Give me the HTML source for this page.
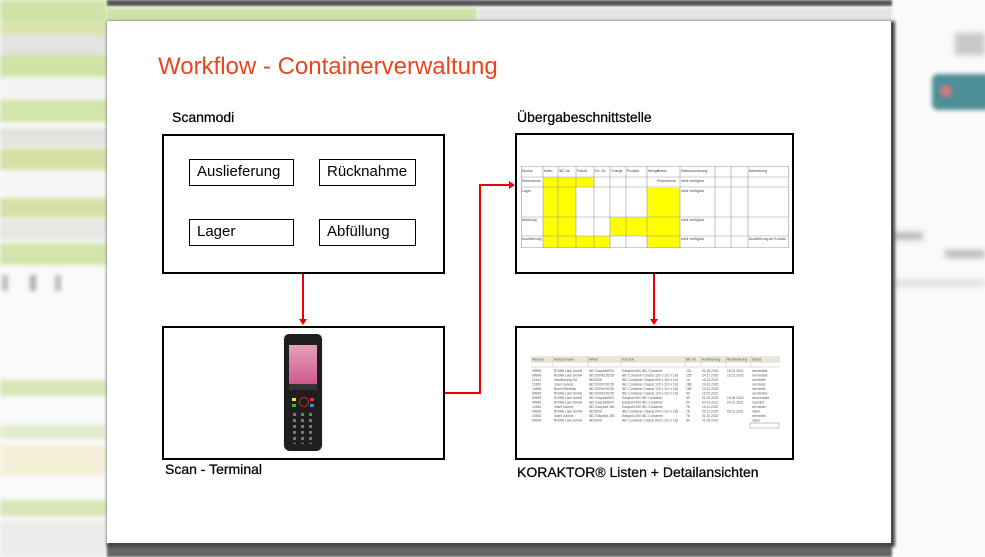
<!DOCTYPE html>
<html><head><meta charset="utf-8"><style>
body{margin:0;width:985px;height:557px;overflow:hidden;position:relative;background:#fafafa;font-family:"Liberation Sans",sans-serif}
.a{position:absolute}
.bl{position:absolute;left:0;width:107px}
.box{position:absolute;border:2px solid #000;background:#fff;box-sizing:border-box}
.ib{position:absolute;border:1px solid #000;box-sizing:border-box;font-size:15px;padding:3px 0 0 7px;color:#000}
.lbl{position:absolute;font-size:14px;color:#000;-webkit-text-stroke:0.25px #000}
.r{position:absolute;background:#e00}
svg text{white-space:pre}
</style></head><body>
<div style="position:absolute;left:0;top:0;width:107px;height:557px;filter:blur(2px)">
<div class="bl" style="top:0;height:20px;background:#cfe3a6"></div>
<div class="bl" style="top:20px;height:15px;background:#dbe4b0"></div>
<div class="bl" style="top:35px;height:20px;background:#e3e3e0"></div>
<div class="bl" style="top:55px;height:22px;background:#cfe3a6"></div>
<div class="bl" style="top:78px;height:22px;background:#f4f4f2"></div>
<div class="bl" style="top:100px;height:22px;background:#d2e5aa"></div>
<div class="bl" style="top:128px;height:18px;background:#e2e2de"></div>
<div class="bl" style="top:148px;height:22px;background:#d6e0a6"></div>
<div class="bl" style="top:175px;height:20px;background:#f5f5f3"></div>
<div class="bl" style="top:198px;height:20px;background:#d8dfa6"></div>
<div class="bl" style="top:220px;height:20px;background:#e6e6e3"></div>
<div class="bl" style="top:243px;height:22px;background:#d2e5aa"></div>
<div class="a" style="left:2px;top:275px;width:6px;height:16px;background:#bbb"></div>
<div class="a" style="left:30px;top:275px;width:6px;height:16px;background:#aaa"></div>
<div class="a" style="left:55px;top:275px;width:6px;height:16px;background:#bbb"></div>
<div class="bl" style="top:380px;height:16px;background:#d6e6b6"></div>
<div class="bl" style="top:425px;height:14px;background:#e3edd0"></div>
<div class="bl" style="top:445px;height:30px;background:#f4f1d8"></div>
<div class="bl" style="top:500px;height:16px;background:#d6e6b6"></div>
<div class="bl" style="top:520px;height:37px;background:#ececea"></div>
</div>
<div class="a" style="left:107px;top:0;width:785px;height:6px;background:#555;filter:blur(1px)"></div>
<div class="a" style="left:107px;top:8px;width:370px;height:12px;background:#cfe3a6;filter:blur(1px)"></div>
<div class="a" style="left:478px;top:8px;width:414px;height:12px;background:#e4e4e4;filter:blur(1px)"></div>
<div class="a" style="left:107px;top:544px;width:785px;height:13px;background:#666;filter:blur(1px)"></div>
<div class="a" style="left:955px;top:33px;width:30px;height:22px;background:#c8c8c8;filter:blur(3px)"></div>
<div class="a" style="left:932px;top:74px;width:60px;height:36px;background:#4d8f98;border-radius:6px;filter:blur(2px)"></div>
<div class="a" style="left:940px;top:85px;width:12px;height:12px;background:#d07c7c;border-radius:50%;filter:blur(2px)"></div>
<div class="a" style="left:893px;top:232px;width:30px;height:8px;background:#bbb;filter:blur(3px)"></div>
<div class="a" style="left:945px;top:250px;width:40px;height:8px;background:#bbb;filter:blur(3px)"></div>
<div class="a" style="left:893px;top:280px;width:92px;height:6px;background:#ddd;filter:blur(3px)"></div>

<div class="a" style="left:107px;top:21px;width:784px;height:522px;background:#fff;box-shadow:2px 2px 3px 2px #444"></div>
<div class="a" style="left:158px;top:53px;font-size:24px;color:#e8461e;white-space:nowrap">Workflow - Containerverwaltung</div>

<div class="lbl" style="left:172px;top:109px">Scanmodi</div>
<div class="lbl" style="left:517px;top:109px">Übergabeschnittstelle</div>
<div class="lbl" style="left:165px;top:461px">Scan - Terminal</div>
<div class="lbl" style="left:517px;top:464px">KORAKTOR® Listen + Detailansichten</div>

<div class="box" style="left:162px;top:134px;width:283px;height:140px"></div>
<div class="ib" style="left:189px;top:159px;width:105px;height:27px">Auslieferung</div>
<div class="ib" style="left:319px;top:159px;width:97px;height:27px">Rücknahme</div>
<div class="ib" style="left:189px;top:219px;width:105px;height:27px">Lager</div>
<div class="ib" style="left:319px;top:219px;width:97px;height:27px">Abfüllung</div>

<div class="box" style="left:162px;top:326px;width:283px;height:134px"></div>
<div class="box" style="left:515px;top:133px;width:279px;height:141px"></div>
<div class="box" style="left:515px;top:326px;width:279px;height:134px"></div>

<div class="r" style="left:302px;top:274px;width:2px;height:46px"></div>
<div class="a" style="left:299px;top:319px;border-left:4px solid transparent;border-right:4px solid transparent;border-top:6px solid #e00"></div>
<div class="r" style="left:653px;top:274px;width:2px;height:46px"></div>
<div class="a" style="left:650px;top:319px;border-left:4px solid transparent;border-right:4px solid transparent;border-top:6px solid #e00"></div>
<div class="r" style="left:445px;top:392px;width:35px;height:2px"></div>
<div class="r" style="left:479px;top:184px;width:2px;height:210px"></div>
<div class="r" style="left:479px;top:184px;width:31px;height:2px"></div>
<div class="a" style="left:509px;top:181px;border-top:4px solid transparent;border-bottom:4px solid transparent;border-left:6px solid #e00"></div>

<svg class="a" style="left:521px;top:166px" width="268" height="82">
<rect x="0" y="0" width="268" height="82" fill="#fff"/>
<rect x="22" y="11" width="33" height="71" fill="#ff0"/>
<rect x="37" y="11" width="36" height="10" fill="#ff0"/>
<rect x="55" y="70" width="34" height="12" fill="#ff0"/>
<rect x="126" y="22" width="33" height="60" fill="#ff0"/>
<rect x="89" y="51" width="70" height="19" fill="#ff0"/>
<g stroke="#999" stroke-width="0.6">
<line x1="0" y1="0.5" x2="268" y2="0.5"/><line x1="0" y1="11" x2="268" y2="11"/><line x1="0" y1="21" x2="268" y2="21"/><line x1="0" y1="51" x2="268" y2="51"/><line x1="0" y1="70" x2="268" y2="70"/><line x1="0" y1="81.5" x2="268" y2="81.5"/>
<line x1="0.5" y1="0" x2="0.5" y2="82"/><line x1="22" y1="0" x2="22" y2="82"/><line x1="37" y1="0" x2="37" y2="82"/><line x1="55" y1="0" x2="55" y2="82"/><line x1="73" y1="0" x2="73" y2="82"/><line x1="89" y1="0" x2="89" y2="82"/><line x1="105" y1="0" x2="105" y2="82"/><line x1="126" y1="0" x2="126" y2="82"/><line x1="159" y1="0" x2="159" y2="82"/><line x1="194" y1="0" x2="194" y2="82"/><line x1="210" y1="0" x2="210" y2="82"/><line x1="227" y1="0" x2="227" y2="82"/><line x1="267.5" y1="0" x2="267.5" y2="82"/>
</g>
<g font-size="3.5" fill="#444" font-family="Liberation Sans">
<text x="1" y="6">Modus</text><text x="23" y="6">Mitar-</text><text x="38" y="6">IBC-Nr.</text><text x="56" y="6">Fracht-</text><text x="74" y="6">Kd.-Nr.</text><text x="90" y="6">Charge</text><text x="106" y="6">Produkt</text><text x="127" y="6">Menge</text><text x="136" y="6">Status</text><text x="160" y="6">Statuszuordnung</text><text x="228" y="6">Bemerkung</text>
<text x="1" y="16">Rücknahme</text><text x="136" y="16">Rücknahme</text><text x="160" y="16">nicht verfügbar</text>
<text x="1" y="26">Lager</text><text x="160" y="26">nicht verfügbar</text>
<text x="1" y="55">Abfüllung</text><text x="160" y="55">nicht verfügbar</text>
<text x="1" y="74">Auslieferung</text><text x="160" y="74">nicht verfügbar</text><text x="228" y="74">Auslieferung an Kunden</text>
</g>
</svg>

<svg class="a" style="left:531px;top:356px" width="249" height="74">
<rect x="0" y="0" width="249" height="74" fill="#fff"/>
<rect x="0" y="0" width="249" height="6" fill="#ece6da"/>
<g stroke="#bbb" stroke-width="0.5">
<line x1="0" y1="6" x2="249" y2="6"/><line x1="0" y1="11" x2="249" y2="11"/>
<line x1="22" y1="0" x2="22" y2="11"/><line x1="57" y1="0" x2="57" y2="11"/><line x1="90" y1="0" x2="90" y2="11"/><line x1="154" y1="0" x2="154" y2="11"/><line x1="170" y1="0" x2="170" y2="11"/><line x1="195" y1="0" x2="195" y2="11"/><line x1="220" y1="0" x2="220" y2="11"/>
</g>
<rect x="219" y="67" width="29" height="5" fill="none" stroke="#888" stroke-width="0.5"/>
<g font-size="3.3" fill="#555" font-family="Liberation Sans">
<text x="1" y="4.5">Adresse</text><text x="23" y="4.5">Adress-Name</text><text x="58" y="4.5">Artikel</text><text x="91" y="4.5">Kurztext</text><text x="155" y="4.5">IBC-Nr</text><text x="171" y="4.5">Auslieferung</text><text x="196" y="4.5">Rücklieferung</text><text x="221" y="4.5">Status</text>
</g>
<g font-size="3.3" fill="#555" font-family="Liberation Sans">
<g transform="translate(0,16)"><text x="1">99999</text><text x="23">ROWA Lack GmbH</text><text x="58">IBC EasyfoldS00</text><text x="91">Easyfold 500 IBC Container</text><text x="155">113</text><text x="171">01.09.2020</text><text x="196">15.01.2021</text><text x="221">vermietbar</text></g>
<g transform="translate(0,20.5)"><text x="1">99999</text><text x="23">ROWA Lack GmbH</text><text x="58">IBC1000K150.55</text><text x="91">IBC Container Classic 120 x 110 x 116</text><text x="155">135</text><text x="171">24.11.2020</text><text x="196">15.12.2020</text><text x="221">vermietbar</text></g>
<g transform="translate(0,25)"><text x="1">11462</text><text x="23">Vandenberg SA</text><text x="58">IBC500K</text><text x="91">IBC Container Classic 600 x 110 x 116</text><text x="155">15</text><text x="171">15.01.2021</text><text x="221">vermietet</text></g>
<g transform="translate(0,29.5)"><text x="1">10360</text><text x="23">Josef Juriens</text><text x="58">IBC1000K150.55</text><text x="91">IBC Container Classic 120 x 110 x 116</text><text x="155">188</text><text x="171">20.10.2020</text><text x="221">vermietet</text></g>
<g transform="translate(0,34)"><text x="1">10658</text><text x="23">Bach/Oberfbau</text><text x="58">IBC1000K150.55</text><text x="91">IBC Container Classic 120 x 110 x 116</text><text x="155">189</text><text x="171">20.10.2020</text><text x="221">vermietet</text></g>
<g transform="translate(0,38.5)"><text x="1">99999</text><text x="23">ROWA Lack GmbH</text><text x="58">IBC1000K150.55</text><text x="91">IBC Container Classic 120 x 110 x 116</text><text x="155">40</text><text x="171">10.01.2021</text><text x="221">vermietbar</text></g>
<g transform="translate(0,43)"><text x="1">99999</text><text x="23">ROWA Lack GmbH</text><text x="58">IBC EasyfoldS00</text><text x="91">Easyfold 500 IBC Container</text><text x="155">59</text><text x="171">01.02.2020</text><text x="196">15.06.2020</text><text x="221">verschrottet</text></g>
<g transform="translate(0,47.5)"><text x="1">99999</text><text x="23">ROWA Lack GmbH</text><text x="58">IBC EasyfoldS00</text><text x="91">Easyfold 500 IBC Container</text><text x="155">64</text><text x="171">04.01.2021</text><text x="196">20.01.2021</text><text x="221">repariert</text></g>
<g transform="translate(0,52)"><text x="1">10360</text><text x="23">Josef Juriens</text><text x="58">IBC Easyfold 250</text><text x="91">Easyfold 250 IBC Container</text><text x="155">78</text><text x="171">15.11.2020</text><text x="221">vermietet</text></g>
<g transform="translate(0,56.5)"><text x="1">99999</text><text x="23">ROWA Lack GmbH</text><text x="58">IBC500K</text><text x="91">IBC Container Classic 600 x 110 x 116</text><text x="155">78</text><text x="171">09.11.2020</text><text x="196">05.01.2021</text><text x="221">intern</text></g>
<g transform="translate(0,61)"><text x="1">10360</text><text x="23">Josef Juriens</text><text x="58">IBC Easyfold 250</text><text x="91">Easyfold 250 IBC Container</text><text x="155">78</text><text x="171">01.10.2020</text><text x="221">vermietet</text></g>
<g transform="translate(0,65.5)"><text x="1">99999</text><text x="23">ROWA Lack GmbH</text><text x="58">IBC500K</text><text x="91">IBC Container Classic 600 x 110 x 116</text><text x="155">80</text><text x="171">01.09.2020</text><text x="221">intern</text></g>
</g>
</svg>

<div class="a" style="left:283px;top:334px;width:40px;height:117px;background:#f0f0f0"></div>
<div class="a" style="left:284px;top:334px;width:38px;height:117px;background:#1e1e1e;border-radius:5px 5px 6px 6px"></div>
<div class="a" style="left:289px;top:345px;width:28px;height:45px;background:linear-gradient(#e8a0b8,#c94f86)"></div>
<div class="a" style="left:289px;top:384px;width:28px;height:6px;background:#333"></div>
<div class="a" style="left:299px;top:397px;width:8px;height:8px;border:1.5px solid #d22;border-radius:50%"></div>
<div class="a" style="left:292px;top:398px;width:4px;height:3px;background:#ee0"></div>
<div class="a" style="left:310px;top:398px;width:4px;height:3px;background:#d33"></div>
<div class="a" style="left:292px;top:404px;width:4px;height:3px;background:#2b4"></div>
<div class="a" style="left:310px;top:404px;width:4px;height:3px;background:#48d"></div>
<div class="a" style="left:291px;top:410px;width:24px;height:34px;background:repeating-linear-gradient(90deg,#1e1e1e 0 2px,#777 2px 5px,#1e1e1e 5px 8px)"></div>
<div class="a" style="left:291px;top:410px;width:24px;height:34px;background:repeating-linear-gradient(#1e1e1e 0 3px,transparent 3px 6px)"></div>
</body></html>
